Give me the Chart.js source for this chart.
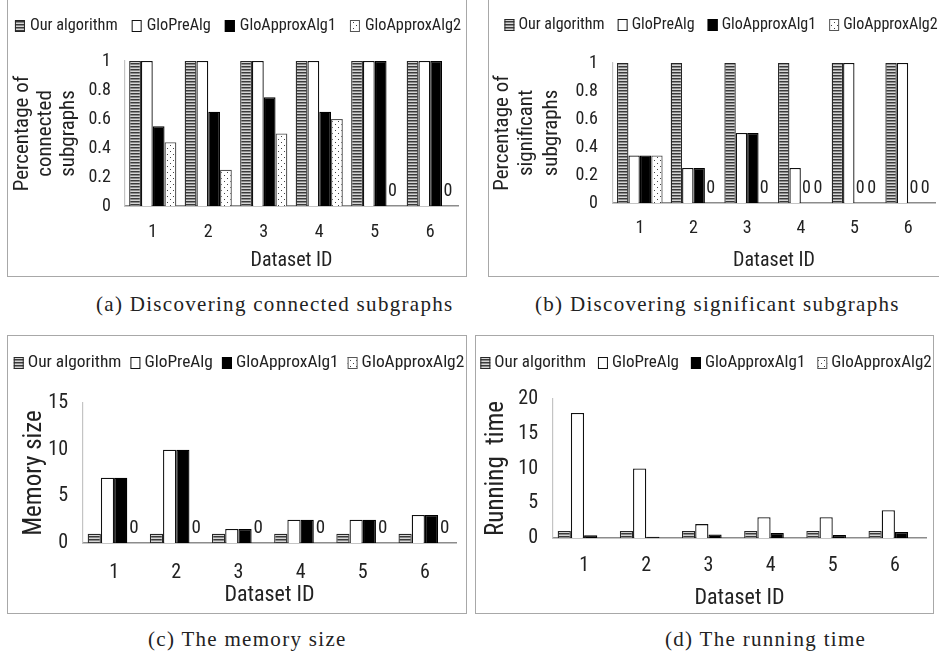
<!DOCTYPE html>
<html>
<head>
<meta charset="utf-8">
<script src="https://cdn.jsdelivr.net/npm/chart.js@4.4.1/dist/chart.umd.min.js"></script>
<style>
  body { margin: 0; width: 939px; height: 656px; overflow: hidden; background: #fff; position: relative; }
  canvas, .box, .cap { position: absolute; }
  .box { border: 1px solid #a8a8a8; box-sizing: border-box; }
  .cap { font-family: 'Liberation Serif', serif; font-size: 21px; letter-spacing: 1.3px; color: #222; white-space: nowrap; line-height: 24px; }
</style>
</head>
<body>
<div class="box" style="left:7px;top:-3px;width:460px;height:280px"></div>
<div class="box" style="left:488px;top:-3px;width:460px;height:280px"></div>
<div class="box" style="left:7px;top:335px;width:460px;height:279px"></div>
<div class="box" style="left:475px;top:335px;width:459px;height:279px"></div>
<canvas id="chartA" width="459" height="276" style="left:7px;top:0px"></canvas>
<canvas id="chartB" width="459" height="276" style="left:488px;top:0px"></canvas>
<canvas id="chartC" width="459" height="278" style="left:7px;top:335px"></canvas>
<canvas id="chartD" width="458" height="278" style="left:475px;top:335px"></canvas>
<div class="cap" style="left:96px;top:292px">(a) Discovering connected subgraphs</div>
<div class="cap" style="left:535px;top:292px">(b) Discovering significant subgraphs</div>
<div class="cap" style="left:148px;top:627px">(c) The memory size</div>
<div class="cap" style="left:665px;top:627px">(d) The running time</div>
<script>
const datasetIds = ['1', '2', '3', '4', '5', '6'];
const seriesNames = ['Our algorithm', 'GloPreAlg', 'GloApproxAlg1', 'GloApproxAlg2'];

// (a) connected subgraphs
const connOur  = [1, 1, 1, 1, 1, 1];
const connPre  = [1, 1, 1, 1, 1, 1];
const connApx1 = [0.55, 0.65, 0.75, 0.65, 1, 1];
const connApx2 = [0.44, 0.25, 0.5, 0.6, 0, 0];

// (b) significant subgraphs
const sigOur  = [1, 1, 1, 1, 1, 1];
const sigPre  = [0.34, 0.25, 0.5, 0.25, 1, 1];
const sigApx1 = [0.34, 0.25, 0.5, 0, 0, 0];
const sigApx2 = [0.34, 0, 0, 0, 0, 0];

// (c) memory size
const memOur  = [1, 1, 1, 1, 1, 1];
const memPre  = [7, 10, 1.5, 2.5, 2.5, 3];
const memApx1 = [7, 10, 1.5, 2.5, 2.5, 3];
const memApx2 = [0, 0, 0, 0, 0, 0];

// (d) running time
const timeOur  = [1, 1, 1, 1, 1, 1];
const timePre  = [18, 10, 2, 3, 3, 4];
const timeApx1 = [0.38, 0.18, 0.5, 0.72, 0.43, 0.85];
const timeApx2 = [0, 0, 0, 0, 0, 0];

const FONT = "'Liberation Sans Narrow', 'Roboto Condensed', Roboto, sans-serif";
const INK = '#222';

function stripePattern() {
  const c = document.createElement('canvas');
  c.width = 4; c.height = 3;
  const g = c.getContext('2d');
  g.fillStyle = '#3a3a3a'; g.fillRect(0, 0, 4, 1);
  g.fillStyle = '#8a8a8a'; g.fillRect(0, 1, 4, 1);
  g.fillStyle = '#d6d6d6'; g.fillRect(0, 2, 4, 1);
  return g.createPattern(c, 'repeat');
}
function dotPattern() {
  const c = document.createElement('canvas');
  c.width = 6; c.height = 6;
  const g = c.getContext('2d');
  g.fillStyle = '#fff'; g.fillRect(0, 0, 6, 6);
  g.fillStyle = '#444'; g.fillRect(1, 1, 1, 1); g.fillRect(4, 4, 1, 1);
  return g.createPattern(c, 'repeat');
}
const stripes = stripePattern();
const dots = dotPattern();

// "0" labels on empty bars
const zeroLabels = {
  id: 'zeroLabels',
  afterDatasetsDraw(chart, args, opts) {
    if (!opts.show) return;
    const ctx = chart.ctx, y0 = chart.scales.y.getPixelForValue(0) - opts.offset;
    ctx.save();
    ctx.font = opts.size + 'px ' + FONT;
    ctx.fillStyle = INK;
    ctx.textAlign = 'center';
    ctx.textBaseline = 'middle';
    chart.data.datasets.forEach((ds, i) => {
      const meta = chart.getDatasetMeta(i);
      ds.data.forEach((v, j) => { if (v === 0) ctx.fillText('0', meta.data[j].x, y0); });
    });
    ctx.restore();
  }
};

// one-row legend like the Excel one, boxes hugging their text
const rowLegend = {
  id: 'rowLegend',
  afterDraw(chart, args, o) {
    const ctx = chart.ctx;
    ctx.save();
    ctx.font = o.size + 'px ' + FONT;
    const items = chart.data.datasets.map(ds => ({ ds, w: ctx.measureText(ds.label).width }));
    const total = items.reduce((s, it) => s + o.box + o.gap + it.w, 0) + o.space * (items.length - 1);
    let x = o.cx - total / 2;
    ctx.textBaseline = 'middle';
    items.forEach(it => {
      const bh = o.box + 2;
      ctx.fillStyle = it.ds.backgroundColor;
      ctx.fillRect(x, o.y - bh / 2, o.box, bh);
      ctx.strokeStyle = it.ds.borderColor;
      ctx.lineWidth = 1;
      ctx.strokeRect(x + 0.5, o.y - bh / 2 + 0.5, o.box - 1, bh - 1);
      x += o.box + o.gap;
      ctx.fillStyle = INK;
      ctx.fillText(it.ds.label, x, o.y);
      x += it.w + o.space;
    });
    ctx.restore();
  }
};

function makeChart(id, c) {
  const styles = [
    { backgroundColor: stripes, borderColor: '#262626' },
    { backgroundColor: '#ffffff', borderColor: '#111' },
    { backgroundColor: '#000000', borderColor: '#000' },
    { backgroundColor: dots, borderColor: '#555' }
  ];
  return new Chart(document.getElementById(id), {
    type: 'bar',
    data: {
      labels: datasetIds,
      datasets: c.values.map((v, i) => Object.assign({ label: seriesNames[i], data: v, borderWidth: 1.3 }, styles[i]))
    },
    options: {
      responsive: false,
      animation: false,
      devicePixelRatio: 1,
      layout: { padding: c.pad },
      datasets: { bar: { categoryPercentage: 0.85, barPercentage: 1 } },
      plugins: {
        tooltip: { enabled: false },
        legend: { display: false },
        rowLegend: c.legend,
        zeroLabels: { show: c.zeros, offset: 15, size: c.zeroSize }
      },
      scales: {
        x: {
          grid: { display: false, drawTicks: false },
          border: { color: '#8c8c8c', width: 1.5 },
          ticks: { color: INK, padding: c.xTickPad, font: { family: FONT, size: c.xTickSize } },
          title: { display: true, text: 'Dataset ID', color: INK, padding: { top: 0, bottom: c.xTitlePad }, font: { family: FONT, size: c.xTitleSize, lineHeight: 1.2 } },
          afterFit(s) { s.height = c.xH; }
        },
        y: {
          min: 0, max: c.max,
          grid: { display: false, drawTicks: false },
          border: { color: '#c4c4c4', width: 1.2 },
          ticks: {
            stepSize: c.step, color: INK, padding: c.yTickPad, font: { family: FONT, size: c.yTickSize },
            callback: v => String(Math.round(v * 10) / 10)
          },
          title: { display: true, text: c.yTitle, color: INK, padding: { top: c.yTitlePad, bottom: 0 }, font: { family: FONT, size: c.yTitleSize, lineHeight: c.yTitleLH } },
          afterFit(s) { s.width = c.yW; }
        }
      }
    },
    plugins: [zeroLabels, rowLegend]
  });
}

makeChart('chartA', {
  values: [connOur, connPre, connApx1, connApx2], max: 1, step: 0.2,
  yTitle: ['Percentage of', 'connected', 'subgraphs'], yTitleSize: 21, yTitleLH: 1.1, yTitlePad: 4,
  pad: { left: 0, right: 8, top: 61, bottom: 3 }, yW: 118, xH: 67,
  legend: { cx: 231, y: 26, size: 16.3, box: 10, gap: 5, space: 14 },
  xTickSize: 18, yTickSize: 18, xTitleSize: 20, xTickPad: 16, yTickPad: 14, xTitlePad: 0,
  zeros: true, zeroSize: 18
});
makeChart('chartB', {
  values: [sigOur, sigPre, sigApx1, sigApx2], max: 1, step: 0.2,
  yTitle: ['Percentage of', 'significant', 'subgraphs'], yTitleSize: 21, yTitleLH: 1.15, yTitlePad: 3,
  pad: { left: 0, right: 12, top: 63, bottom: 3 }, yW: 125, xH: 70,
  legend: { cx: 233, y: 25, size: 16, box: 10, gap: 4, space: 13 },
  xTickSize: 18, yTickSize: 18, xTitleSize: 20, xTickPad: 15, yTickPad: 15, xTitlePad: 0,
  zeros: true, zeroSize: 18
});
makeChart('chartC', {
  values: [memOur, memPre, memApx1, memApx2], max: 15, step: 5,
  yTitle: 'Memory size', yTitleSize: 25, yTitleLH: 1.2, yTitlePad: 13,
  pad: { left: 0, right: 10, top: 68, bottom: 3 }, yW: 76, xH: 67,
  legend: { cx: 232, y: 28, size: 17.4, box: 10, gap: 4, space: 9 },
  xTickSize: 20, yTickSize: 20, xTitleSize: 22, xTickPad: 18, yTickPad: 15, xTitlePad: 1,
  zeros: true, zeroSize: 19
});
makeChart('chartD', {
  values: [timeOur, timePre, timeApx1, timeApx2], max: 20, step: 5,
  yTitle: 'Running  time', yTitleSize: 25, yTitleLH: 1.2, yTitlePad: 7,
  pad: { left: 0, right: 7, top: 64, bottom: 1 }, yW: 78, xH: 74,
  legend: { cx: 231, y: 28, size: 17, box: 10, gap: 4, space: 12 },
  xTickSize: 20, yTickSize: 20, xTitleSize: 22, xTickPad: 16, yTickPad: 15, xTitlePad: 0,
  zeros: false, zeroSize: 19
});
</script>
</body>
</html>
